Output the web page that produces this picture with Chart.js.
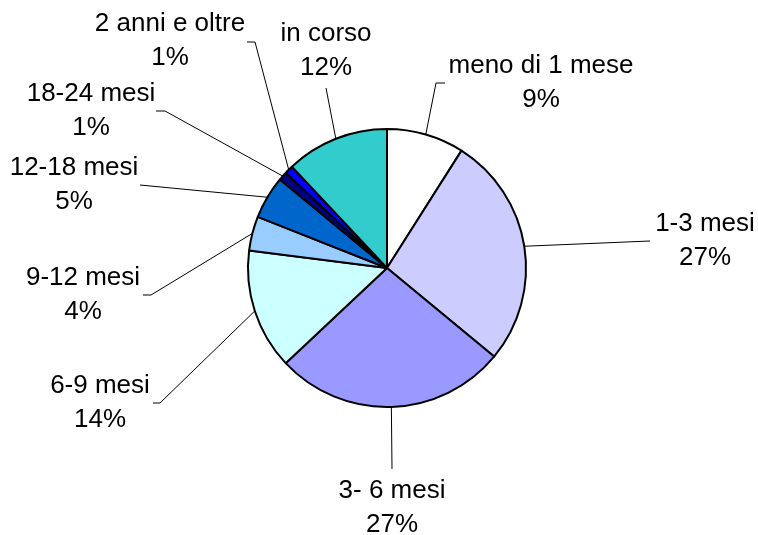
<!DOCTYPE html>
<html lang="it">
<head>
<meta charset="utf-8">
<title>Durata</title>
<script src="https://cdn.jsdelivr.net/npm/chart.js@4"></script>
<style>
    html, body { margin: 0; padding: 0; background: #ffffff; }
    #wrap { width: 758px; height: 535px; }
</style>
</head>
<body>
<div id="wrap"><canvas id="graficoTorta"></canvas></div>
<script>
// Dati (in senso orario dalle ore 12)
const categories = ['meno di 1 mese', '1-3 mesi', '3- 6 mesi', '6-9 mesi', '9-12 mesi', '12-18 mesi', '18-24 mesi', '2 anni e oltre', 'in corso'];
const shares = [9, 27, 27, 14, 4, 5, 1, 1, 12];
const sliceColors = ['#FFFFFF', '#CCCCFF', '#9999FF', '#CCFFFF', '#99CCFF', '#0066CC', '#000080', '#0000FF', '#33CCCC'];

// Posizione etichette rispetto al centro della torta (px)
const labelOffsets = [[154, -203], [318, -45], [5, 222], [-287, 117], [-304, 9], [-313, -101], [-296, -175], [-217, -245], [-61, -235]];
// Punti della linea guida dopo il bordo della fetta
const leaderPoints = [
    [[49, -185], [58, -185]],
    [[263, -27]],
    [[5, 201]],
    [[-227, 135], [-234, 135]],
    [[-236, 27], [-244, 27]],
    [[-247, -83]],
    [[-222, -157], [-231, -157]],
    [[-132, -226], [-140, -226]],
    [[-61, -180]]
];

const FONT = '26px "Liberation Sans", Arial, sans-serif';
const LINE_GAP = 34;

const pieLabels = {
    id: 'pieLabels',
    afterDatasetsDraw(chart) {
        const ctx = chart.ctx;
        const meta = chart.getDatasetMeta(0);
        const total = shares.reduce((a, b) => a + b, 0);

        ctx.save();
        meta.data.forEach((arc, i) => {
            const { x, y, startAngle, endAngle, outerRadius } = arc.getProps(['x', 'y', 'startAngle', 'endAngle', 'outerRadius'], true);
            const mid = (startAngle + endAngle) / 2;

            // linea guida
            ctx.beginPath();
            ctx.strokeStyle = '#000000';
            ctx.lineWidth = 1;
            ctx.moveTo(x + outerRadius * Math.cos(mid), y + outerRadius * Math.sin(mid));
            leaderPoints[i].forEach(([dx, dy]) => ctx.lineTo(x + dx, y + dy));
            ctx.stroke();

            // testo
            const [tx, ty] = labelOffsets[i];
            ctx.fillStyle = '#000000';
            ctx.font = FONT;
            ctx.textAlign = 'center';
            ctx.textBaseline = 'middle';
            ctx.fillText(categories[i], x + tx, y + ty + 1);
            ctx.fillText(Math.round(shares[i] / total * 100) + '%', x + tx, y + ty + 1 + LINE_GAP);
        });
        ctx.restore();
    }
};

document.addEventListener('DOMContentLoaded', () => {
    new Chart(document.getElementById('graficoTorta'), {
        type: 'pie',
        data: {
            labels: categories,
            datasets: [{
                data: shares,
                backgroundColor: sliceColors,
                borderColor: '#000000',
                borderWidth: 2
            }]
        },
        options: {
            responsive: true,
            maintainAspectRatio: false,
            animation: false,
            layout: { padding: { top: 128, bottom: 127, left: 16, right: 0 } },
            plugins: {
                legend: { display: false },
                tooltip: { enabled: false }
            }
        },
        plugins: [pieLabels]
    });
});
</script>
</body>
</html>
